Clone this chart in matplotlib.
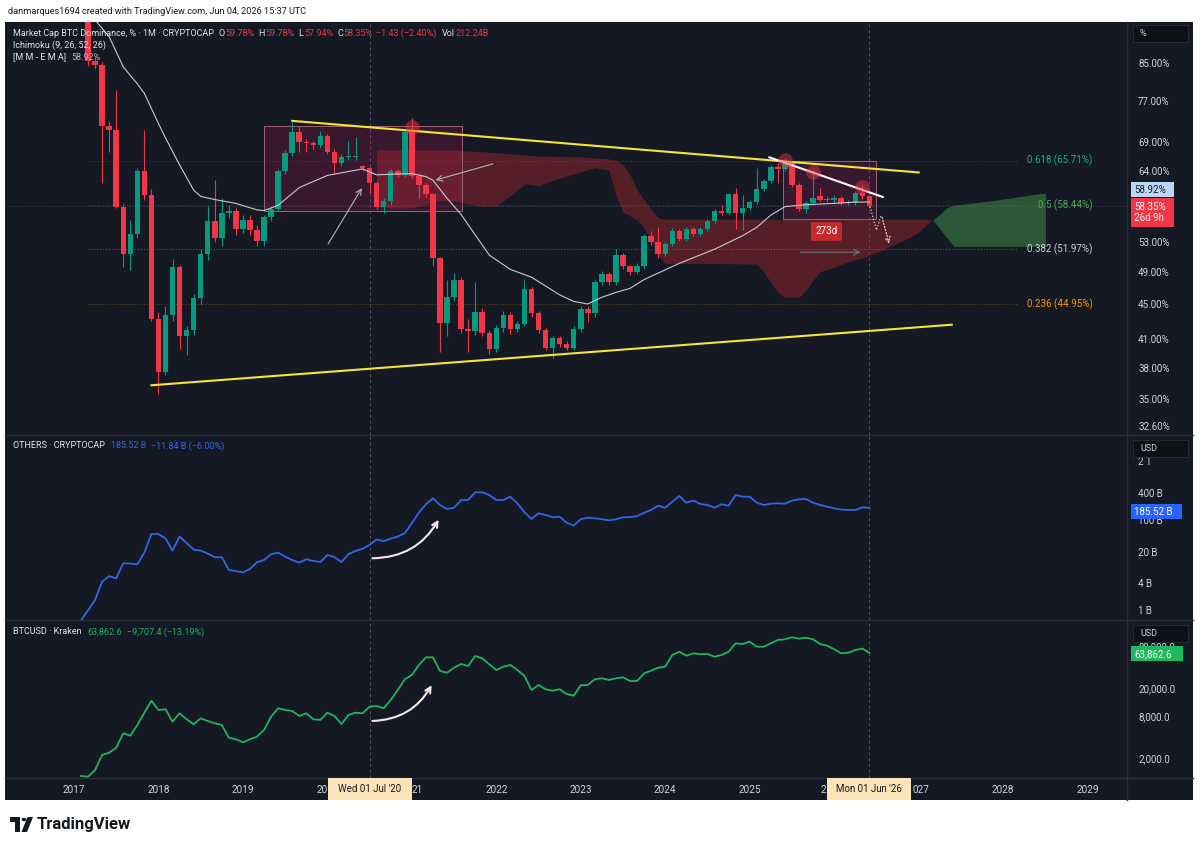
import numpy as np
import matplotlib
matplotlib.use("Agg")
import matplotlib.pyplot as plt
from matplotlib.patches import Rectangle, Circle, Polygon
from matplotlib.lines import Line2D
from matplotlib.transforms import blended_transform_factory

plt.rcParams['font.family'] = ['Roboto', 'DejaVu Sans']

# ---------------- data (month index: 0 = Jan 2017) ----------------
candle_months = list(range(2, 114))
dom_open = [97.0, 85.5, 84.6, 72.0, 71.3, 58.2, 51.4, 54.1, 63.9, 60.0,
            43.3, 37.6, 43.7, 49.6, 41.3, 42.0, 45.7, 51.3, 56.1, 53.5,
            57.2, 57.5, 54.9, 56.2, 54.7, 53.1, 56.7, 57.9, 63.9, 67.1,
            70.9, 69.1, 68.9, 68.5, 70.1, 67.3, 65.3, 66.3, 66.4, 64.8,
            64.4, 62.0, 58.2, 59.0, 63.9, 63.3, 70.9, 63.1, 61.6, 60.1,
            50.8, 42.8, 45.8, 47.9, 42.1, 41.9, 44.1, 41.7, 39.9, 42.2,
            43.7, 42.1, 42.7, 46.8, 43.9, 42.0, 40.1, 41.1, 40.5, 40.1,
            42.1, 44.4, 43.9, 47.7, 48.7, 47.7, 51.2, 49.7, 49.0, 49.8,
            53.8, 53.0, 51.4, 52.7, 54.6, 53.4, 54.8, 54.1, 54.8, 56.0,
            57.6, 57.3, 60.1, 57.2, 58.0, 58.9, 61.0, 62.3, 64.6, 64.2,
            65.4, 61.6, 57.9, 58.7, 59.8, 59.2, 59.2, 59.6, 58.8, 58.7,
            60.4, 59.78]
dom_high = [98.0, 86.5, 85.2, 72.9, 79.2, 58.6, 56.2, 64.4, 71.3, 61.0,
            44.0, 44.7, 50.7, 49.9, 42.5, 46.2, 52.0, 58.3, 62.4, 59.5,
            58.5, 58.0, 57.0, 57.0, 55.5, 57.0, 58.3, 64.2, 67.6, 72.8,
            72.1, 69.5, 69.3, 71.0, 70.5, 67.8, 66.8, 69.2, 70.0, 65.0,
            64.6, 62.3, 59.5, 64.2, 64.3, 71.3, 73.6, 63.4, 61.9, 60.3,
            51.0, 47.9, 48.8, 48.3, 43.3, 47.7, 44.5, 42.0, 42.6, 44.2,
            44.0, 43.0, 48.1, 47.1, 44.2, 42.2, 41.4, 41.4, 40.8, 42.4,
            44.7, 44.7, 48.0, 49.1, 49.0, 52.1, 51.5, 49.9, 50.1, 54.1,
            54.5, 55.1, 53.0, 55.0, 54.9, 55.1, 55.1, 55.1, 56.3, 57.8,
            58.5, 60.4, 61.2, 60.0, 59.2, 64.4, 62.6, 64.9, 65.3, 66.2,
            65.6, 62.0, 59.0, 64.1, 61.2, 59.9, 60.0, 59.9, 59.3, 60.7,
            61.7, 59.78]
dom_low = [84.5, 83.8, 61.9, 67.3, 58.0, 49.6, 49.2, 53.5, 59.2, 43.0,
           35.5, 37.3, 43.0, 40.0, 39.3, 41.5, 45.0, 50.5, 53.0, 52.5,
           56.5, 54.0, 54.3, 54.0, 52.4, 52.5, 56.0, 57.5, 63.5, 66.5,
           67.3, 67.3, 67.8, 68.0, 66.8, 63.5, 64.8, 65.8, 65.8, 64.0,
           60.3, 57.8, 57.3, 58.5, 63.0, 63.0, 62.8, 59.6, 59.7, 49.7,
           39.6, 41.3, 45.3, 41.7, 39.6, 41.5, 41.3, 39.4, 39.6, 41.8,
           41.6, 41.8, 42.4, 43.5, 41.7, 39.8, 39.0, 40.2, 39.8, 39.8,
           41.8, 42.9, 43.5, 47.3, 47.3, 47.3, 49.4, 48.6, 48.7, 49.5,
           52.6, 50.8, 51.1, 52.4, 53.1, 53.1, 53.8, 53.8, 54.5, 55.7,
           57.0, 57.0, 54.9, 54.7, 57.7, 58.6, 60.7, 62.0, 61.9, 64.0,
           61.3, 57.5, 57.2, 58.4, 59.0, 58.9, 58.8, 58.4, 58.5, 58.4,
           59.4, 57.94]
dom_close = [85.5, 84.6, 72.0, 71.3, 58.2, 51.4, 54.1, 63.9, 60.0, 43.3,
             37.6, 43.7, 49.6, 41.3, 42.0, 45.7, 51.3, 56.1, 53.5, 57.2,
             57.5, 54.9, 56.2, 54.7, 53.1, 56.7, 57.9, 63.9, 67.1, 70.9,
             69.1, 68.9, 68.5, 70.1, 67.3, 65.3, 66.3, 66.4, 66.5, 64.4,
             62.0, 58.2, 59.0, 63.9, 63.3, 70.9, 63.1, 61.6, 60.1, 50.8,
             42.8, 45.8, 47.9, 42.1, 41.9, 44.1, 41.7, 39.9, 42.2, 43.7,
             42.1, 42.7, 46.8, 43.9, 42.0, 40.1, 41.1, 40.5, 40.1, 42.1,
             44.4, 43.9, 47.7, 48.7, 47.7, 51.2, 49.7, 49.0, 49.8, 53.8,
             53.0, 51.4, 52.7, 54.6, 53.4, 54.8, 54.1, 54.8, 56.0, 57.5,
             57.3, 60.1, 57.2, 58.0, 58.9, 61.0, 62.3, 64.6, 64.2, 65.4,
             61.6, 57.9, 58.7, 59.5, 59.2, 59.4, 59.5, 58.7, 58.9, 60.4,
             59.78, 58.35]

ema_months = [3, 5, 7, 9, 10, 12, 13, 15, 17, 18, 20, 23, 26, 27, 29, 32, 36, 41,
              43, 45, 48, 50, 51, 53, 55, 59, 62, 65, 69, 71, 73, 75, 77, 79, 81,
              86, 91, 95, 97, 99, 101, 104, 108, 111, 113]
ema_values = [95.3, 91.2, 84.2, 80.5, 78.5, 72.5, 69.8, 65.0, 60.8, 59.8, 59.3,
              58.7, 57.7, 57.6, 58.4, 61.2, 63.2, 64.3, 63.3, 63.4, 63.5, 63.0,
              62.4, 59.5, 57.0, 51.2, 49.3, 48.3, 46.1, 45.3, 45.0, 45.8, 46.4,
              46.9, 48.0, 50.1, 52.0, 53.9, 55.1, 56.9, 58.2, 58.5, 58.7, 58.9, 58.92]

cloud_months = [43, 45, 48, 50, 52, 54, 56, 58, 60, 62, 64, 66, 68, 70, 72, 74, 76,
                77, 78, 79, 80, 81, 82, 83, 84, 90, 97, 98, 99, 100, 101, 103, 104,
                105, 106, 108, 110, 112, 114, 116, 118, 120, 121, 122, 123, 124, 125,
                128, 131, 134, 137, 138]
span_a = [58.3, 58.0, 58.0, 58.6, 59.2, 59.1, 58.6, 58.3, 58.3, 59.9, 61.8, 61.5,
          62.4, 63.1, 63.8, 64.5, 64.1, 60.0, 57.4, 56.8, 56.2, 55.0, 53.3, 51.2,
          50.1, 50.1, 50.0, 49.0, 47.6, 46.4, 45.8, 45.8, 46.7, 47.9, 49.0, 49.6,
          50.3, 50.8, 51.6, 52.4, 53.3, 54.4, 55.4, 56.2, 57.0, 58.0, 58.4, 58.8,
          59.2, 59.7, 60.2, 60.3]
span_b = [67.6, 67.6, 67.6, 67.6, 67.6, 67.6, 67.4, 67.3, 67.1, 66.9, 66.7, 66.5,
          66.5, 66.4, 66.4, 66.2, 66.0, 65.8, 65.0, 63.3, 60.8, 59.2, 57.7, 56.5,
          56.3, 56.3, 56.3, 56.3, 56.3, 56.3, 56.3, 56.3, 56.3, 56.3, 56.3, 56.3,
          56.3, 56.3, 56.3, 56.3, 56.3, 56.3, 56.3, 56.2, 54.9, 53.6, 52.4, 52.4,
          52.4, 52.4, 52.4, 52.4]

fib_levels = ['0.618', '0.5', '0.382', '0.236']
fib_values = [65.71, 58.44, 51.97, 44.95]

# drawings: trend lines (month, value) pairs
upper_trend = ([31, 120], [73.0, 63.7])
lower_trend = ([11.0, 124.7], [36.3, 42.6])
white_trend = ([98.8, 114.9], [66.3, 59.7])
zones = [(27.0, 55.1, 57.5, 72.0), (100.7, 113.9, 56.3, 65.6)]
top_marks_m = [48, 101, 105, 112]
top_marks_v = [71.9, 65.8, 63.7, 61.3]
proj_months = [113.1, 114.0, 114.7, 115.9]
proj_values = [58.2, 54.7, 57.0, 52.4]

others_months = list(range(1, 114))
others_b = [0.6, 1.0, 1.7, 4.3, 5.7, 5.1, 11, 10.8, 10.4, 18.9,
            49, 49, 39, 21, 43, 31, 22, 21, 18, 15,
            15, 7.8, 7.4, 6.9, 8.2, 11.6, 13, 17.4, 18.9, 15.4,
            13, 11.3, 13.5, 12.4, 11.7, 16.8, 15, 11.7, 17.6, 20.6,
            23, 28, 37, 34, 38.5, 43, 51, 85, 145, 223,
            303, 215, 175, 187, 277, 277, 411, 411, 358, 277,
            277, 328, 234, 148, 105, 141, 129, 115, 118, 87,
            75, 105, 112, 109, 104, 98, 104, 115, 116, 122,
            145, 167, 207, 187, 254, 340, 242, 268, 226, 215,
            187, 223, 207, 358, 328, 328, 242, 215, 230, 234,
            230, 268, 287, 292, 242, 215, 197, 182, 170, 167,
            167, 191, 185.52]

btc_months = list(range(1, 114))
btc_usd = [1128, 1100, 1372, 2246, 2421, 2852, 4574, 4228, 6006, 8986,
           13318, 9822, 10047, 6690, 8810, 7240, 6146, 7476, 6845, 6346,
           6006, 3958, 3758, 3405, 3758, 4092, 5096, 7880, 10380, 9822,
           9505, 8066, 8810, 7240, 7076, 8986, 8066, 6206, 8336, 8986,
           8810, 10944, 11196, 10380, 13624, 18920, 26866, 30940, 42940, 55260,
           55260, 35260, 33340, 39280, 44360, 41540, 57660, 53500, 43920, 36440,
           40600, 42940, 36440, 29940, 18920, 22280, 19360, 18480, 19360, 16600,
           15680, 22060, 22280, 26866, 27760, 26260, 27760, 28700, 25400, 25400,
           32700, 35620, 39280, 40600, 59600, 66400, 58240, 63000, 61000, 61600,
           56360, 59600, 66400, 87440, 85400, 92200, 78240, 78240, 87440, 97480,
           99780, 106480, 101700, 105080, 99780, 85400, 80860, 71840, 63000, 64260,
           70200, 73570, 63862.6]

year_labels = [str(y) for y in range(2017, 2030)]
cross_months = [42, 113]
cross_labels = ["Wed 01 Jul '20", "Mon 01 Jun '26"]

# ---------------- layout ----------------
W, H = 1200, 848
BG = '#151924'
TXT = '#d1d4dc'
UP = '#089981'
DOWN = '#f23645'
GRIDC = '#2a2e39'
XMIN, XMAX = -9.8, 149.6

fig = plt.figure(figsize=(W / 100, H / 100), dpi=100, facecolor='white')


def fx(px):
    return px / W


def fy(py):
    return 1 - py / H


fig.add_artist(Rectangle((fx(5), fy(800)), fx(1193) - fx(5), (800 - 22) / H,
                         transform=fig.transFigure, facecolor=BG, edgecolor='none', zorder=-10))


def make_axes(top, bottom):
    ax = fig.add_axes([fx(5), fy(bottom), (1127 - 5) / W, (bottom - top) / H])
    ax.set_facecolor(BG)
    for s in ax.spines.values():
        s.set_visible(False)
    ax.set_xlim(XMIN, XMAX)
    ax.set_yscale('log')
    ax.yaxis.tick_right()
    ax.tick_params(axis='both', length=0, labelcolor=TXT, labelsize=7)
    ax.tick_params(axis='y', pad=8)
    ax.yaxis.set_minor_locator(matplotlib.ticker.NullLocator())
    ax.set_xticks([])
    for m in cross_months:
        ax.axvline(m, color='#787b86', lw=0.7, ls=(0, (3, 3)), alpha=0.6, zorder=1)
    return ax


ax1 = make_axes(22, 435)
ax2 = make_axes(435, 620)
ax3 = make_axes(620, 778)

# ---------------- main panel ----------------
ax1.set_ylim(31.83, 94.8)
tks = [32.6, 35, 38, 41, 45, 49, 53, 64, 69, 77, 85]
ax1.set_yticks(tks)
ax1.set_yticklabels([f'{t:.2f}%' for t in tks])

# Ichimoku cloud
sa = np.array(span_a)
sb = np.array(span_b)
ax1.fill_between(cloud_months, sa, sb, where=sa <= sb, interpolate=True,
                 color='#b2282e', alpha=0.42, lw=0, zorder=1)
ax1.fill_between(cloud_months, sa, sb, where=sa >= sb, interpolate=True,
                 color='#4caf50', alpha=0.42, lw=0, zorder=1)

# zones
for x0, x1, lo, hi in zones:
    ax1.add_patch(Rectangle((x0, lo), x1 - x0, hi - lo, facecolor='#c2185b', alpha=0.2,
                            edgecolor='none', zorder=1.5))
    ax1.add_patch(Rectangle((x0, lo), x1 - x0, hi - lo, facecolor='none',
                            edgecolor='#9c6470', lw=0.7, zorder=1.6))

# fib levels
fib_colors = ['#26a69a', '#4caf50', '#d1d4dc', '#ff9800']
for lev, val, col in zip(fib_levels, fib_values, fib_colors):
    ax1.hlines(val, 2, 134, colors=col, lw=0.7, ls=(0, (1, 2)), alpha=0.35, zorder=1)
    ax1.text(144.7, val, f'{lev} ({val:.2f}%)', color=col, fontsize=7,
             ha='right', va='center', zorder=6)

# last price line
ax1.axhline(dom_close[-1], color='#787b86', lw=0.6, ls=(0, (1, 2)), alpha=0.5, zorder=1)

# candles
o = np.array(dom_open)
hgh = np.array(dom_high)
low = np.array(dom_low)
c = np.array(dom_close)
cols = np.where(c >= o, UP, DOWN)
ax1.vlines(candle_months, low, hgh, colors=cols, lw=0.8, zorder=3)
ax1.bar(candle_months, np.maximum(np.abs(c - o), 0.15), bottom=np.minimum(o, c),
        width=0.78, color=cols, lw=0, zorder=3.1)

# EMA
ax1.plot(ema_months, ema_values, color='#c9cbd1', lw=0.8, zorder=4)

# trend lines
ax1.plot(*upper_trend, color='#f5e43a', lw=1.5, zorder=4.5)
ax1.plot(*lower_trend, color='#f5e43a', lw=1.5, zorder=4.5)
ax1.plot(*white_trend, color='white', lw=1.5, zorder=4.5)

# highlighted tops
ax1.scatter(top_marks_m, top_marks_v, s=110, color=DOWN, alpha=0.45, lw=0, zorder=4.6)

# arrows
ax1.annotate('', xy=(41.1, 61.5), xytext=(35.9, 52.4),
             arrowprops=dict(arrowstyle='->', color='#b2b5be', lw=0.8), zorder=5)
ax1.annotate('', xy=(51.0, 62.3), xytext=(59.9, 65.3),
             arrowprops=dict(arrowstyle='->', color='#b2b5be', lw=0.8), zorder=5)

# projection path
ax1.plot(proj_months[:-1], proj_values[:-1], color='#d1d4dc', lw=0.9, ls=(0, (1, 1.5)), zorder=5)
ax1.annotate('', xy=(proj_months[-1], proj_values[-1]), xytext=(proj_months[-2], proj_values[-2]),
             arrowprops=dict(arrowstyle='->', color='#d1d4dc', lw=0.9, ls=(0, (1, 1.5))), zorder=5)

# date range tool
ax1.annotate('', xy=(112.1, 51.6), xytext=(102.8, 51.6),
             arrowprops=dict(arrowstyle='->', color='#787b86', lw=0.7), zorder=5)
ax1.text(106.9, 54.5, '273d', color='white', fontsize=7, ha='center', va='center', zorder=6,
         bbox=dict(boxstyle='round,pad=0.45,rounding_size=0.2', facecolor='#c62a2f',
                   edgecolor='none'))

# ---------------- OTHERS panel ----------------
ax2.set_ylim(0.608, 7647)
t2 = [1, 4, 20, 100, 400, 2000]
ax2.set_yticks(t2)
ax2.set_yticklabels(['1 B', '4 B', '20 B', '100 B', '400 B', '2 T'])
ax2.plot(others_months, others_b, color='#3366e6', lw=1.3, zorder=3)
ax2.annotate('', xy=(52.0, 114.8), xytext=(42, 14.2),
             arrowprops=dict(arrowstyle='->', color='#f8e6ea', lw=1.5,
                             connectionstyle='arc3,rad=0.3'), zorder=5)

# ---------------- BTCUSD panel ----------------
ax3.set_ylim(1056, 187700)
t3 = [2000, 8000, 20000, 80000]
ax3.set_yticks(t3)
ax3.set_yticklabels([f'{t:,.1f}' for t in t3])
ax3.plot(btc_months, btc_usd, color='#22b35e', lw=1.3, zorder=3)
ax3.annotate('', xy=(51.0, 24030), xytext=(42, 6846),
             arrowprops=dict(arrowstyle='->', color='#f8e6ea', lw=1.5,
                             connectionstyle='arc3,rad=0.3'), zorder=5)

# time axis: year labels; the ones under the crosshair date boxes show only their visible part
xtr = blended_transform_factory(ax3.transData, fig.transFigure)
px_per_month = ax3.transData.transform((1, 1000))[0] - ax3.transData.transform((0, 1000))[0]
partial = {'2020': ('20', 'right', 0), '2021': ('21', 'left', 0),
           '2026': ('2', 'right', -8), '2027': ('027', 'left', -6.5)}
for i, lab in enumerate(year_labels):
    txt, ha, dx = partial.get(lab, (lab, 'center', 0))
    fig.text(12 * i + dx / px_per_month, fy(790), txt, transform=xtr, color=TXT,
             fontsize=7.2, ha=ha, va='center')

# crosshair date labels
for m, lab in zip(cross_months, cross_labels):
    xd = ax3.transData.transform((m, 1000))[0]
    fig.add_artist(Rectangle((fx(xd - 42), fy(800)), 84 / W, 22 / H, transform=fig.transFigure,
                             facecolor='#fde3b8', edgecolor='none', zorder=20))
    fig.text(fx(xd), fy(789), lab, color='#131722', fontsize=7, ha='center', va='center', zorder=21)

# ---------------- separators ----------------
for yy in [435, 620, 778]:
    fig.add_artist(Line2D([fx(5), fx(1193)], [fy(yy), fy(yy)], color=GRIDC, lw=1, zorder=15))
fig.add_artist(Line2D([fx(1127), fx(1127)], [fy(22), fy(800)], color=GRIDC, lw=1, zorder=15))


# ---------------- price tags ----------------
def tag(ax, value, label, fc, tc, x1, dy=0.0, h=15):
    yd = ax.transData.transform((0, value))[1] + dy
    fig.add_artist(Rectangle((fx(1131), (yd - h / 2) / H), (x1 - 1131) / W, h / H,
                             transform=fig.transFigure, facecolor=fc, edgecolor='none', zorder=20))
    fig.text(fx(1134), yd / H, label, color=tc, fontsize=7, va='center', zorder=21,
             linespacing=1.15)


tag(ax1, dom_close[-1], '58.35%\n26d 9h', '#f23645', 'white', 1174, dy=-7, h=29)
tag(ax1, ema_values[-1], '58.92%', '#bbd6f7', '#131722', 1174, dy=12)
tag(ax2, others_b[-1], '185.52 B', '#2962ff', 'white', 1182, dy=-4)
tag(ax3, btc_usd[-1], '63,862.6', '#1fb85c', 'white', 1183, dy=-1)

# unit boxes
for ytop, lab in [(25, '%'), (440, 'USD'), (625, 'USD')]:
    fig.add_artist(Rectangle((fx(1133), fy(ytop + 17)), 55 / W, 17 / H, transform=fig.transFigure,
                             facecolor='#0e1016', edgecolor=GRIDC, lw=0.6, zorder=20))
    fig.text(fx(1140), fy(ytop + 8.5), lab, color=TXT, fontsize=6.5, va='center', zorder=21)


# ---------------- legends ----------------
renderer = fig.canvas.get_renderer()


def legend_row(x, y, parts, size=6.5):
    for txt, col, gap in parts:
        t = fig.text(fx(x), fy(y), txt, color=col, fontsize=size, va='center', zorder=22)
        x += t.get_window_extent(renderer).width + gap


WH = '#e0e3eb'
legend_row(13, 33, [('Market Cap BTC Dominance, % · 1M · CRYPTOCAP', WH, 5),
                    ('O', WH, 0.5), ('59.78%', DOWN, 4), ('H', WH, 0.5), ('59.78%', DOWN, 4),
                    ('L', WH, 0.5), ('57.94%', DOWN, 4), ('C', WH, 0.5), ('58.35%', DOWN, 4),
                    ('−1.43 (−2.40%)', DOWN, 5), ('Vol', WH, 0.5), ('212.24B', DOWN, 0)])
legend_row(13, 45, [('Ichimoku (9, 26, 52, 26)', WH, 0)])
legend_row(13, 57, [('[M M - E M A]', WH, 5), ('58.92%', '#b2b5be', 0)])
legend_row(13, 446, [('OTHERS · CRYPTOCAP', WH, 6), ('185.52 B', '#3366e6', 5),
                     ('−11.84 B (−6.00%)', '#3366e6', 0)])
legend_row(13, 632, [('BTCUSD · Kraken', WH, 6), ('63,862.6', '#22b35e', 5),
                     ('−9,707.4 (−13.19%)', '#22b35e', 0)])

# header and footer
fig.text(fx(8), fy(11), 'danmarques1694 created with TradingView.com, Jun 04, 2026 15:37 UTC',
         color='#131722', fontsize=6.6, va='center')
for patch in [Rectangle((fx(10), fy(822)), 10 / W, 5 / H),
              Rectangle((fx(15), fy(832)), 5 / W, 15 / H),
              Polygon([(fx(21.5), fy(832)), (fx(27), fy(832)), (fx(33), fy(817)), (fx(27.5), fy(817))])]:
    patch.set_transform(fig.transFigure)
    patch.set_facecolor('#131722')
    patch.set_edgecolor('none')
    fig.add_artist(patch)
fig.add_artist(Circle((fx(24), fy(819.5)), 2.4 / W, transform=fig.transFigure, facecolor='#131722'))
fig.text(fx(37), fy(825), 'TradingView', color='#131722', fontsize=12, fontweight='bold', va='center')

fig.savefig('out.png', dpi=100, facecolor='white')
